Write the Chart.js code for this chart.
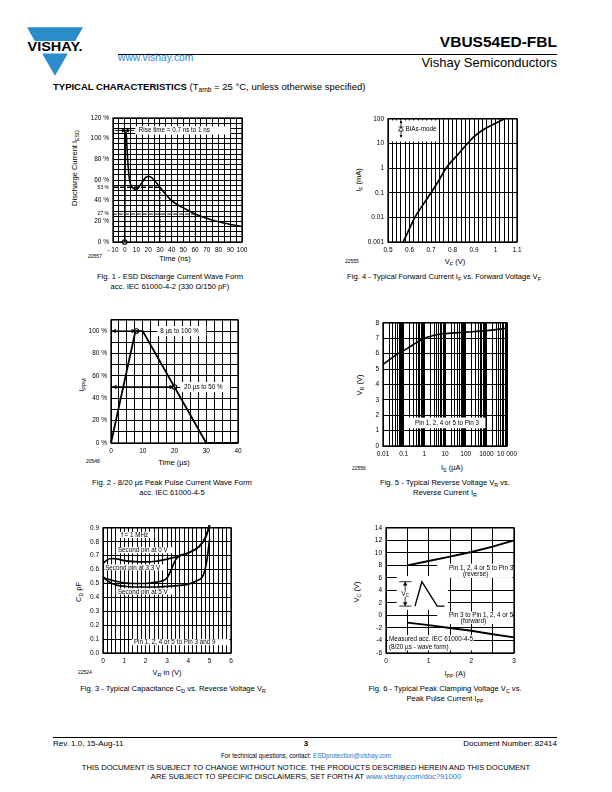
<!DOCTYPE html>
<html>
<head>
<meta charset="utf-8">
<title>VBUS54ED-FBL typical characteristics</title>
<script src="https://cdn.jsdelivr.net/npm/chart.js@4.4.1/dist/chart.umd.min.js"></script>
<style>
  body { margin:0; width:612px; height:792px; position:relative; overflow:hidden; background:#fff;
         font-family:"Liberation Sans", Arial, sans-serif; color:#000; }
  .t { position:absolute; white-space:nowrap; line-height:1; transform:translateY(-50%); }
  .c { transform:translate(-50%,-50%); text-align:center; }
  .r { transform:translate(-100%,-50%); }
  .yt { position:absolute; white-space:nowrap; line-height:1; font-size:7.5px; transform:translate(-50%,-50%) rotate(-90deg); }
  .holder { position:absolute; }
  .holder canvas { display:block; }
  .note { position:absolute; white-space:nowrap; line-height:1; font-size:6.3px; }
  sub { font-size:70%; vertical-align:-0.3em; line-height:0; }
  .cap { font-size:7.6px; }
  .code { font-size:5px; }
  a { color:#1a7ac6; }
</style>
</head>
<body>

<!-- header -->
<svg style="position:absolute;left:27px;top:27px" width="56" height="49" viewBox="0 0 58 50">
  <polygon points="0,0 58,0 49.9,14 8.1,14" fill="#2b8ccc"/>
  <polygon points="15.7,27 42.3,27 29,50" fill="#2b8ccc"/>
  <text x="0.5" y="25" font-family="Liberation Sans" font-weight="bold" font-size="12.5" textLength="57" lengthAdjust="spacingAndGlyphs">VISHAY.</text>
</svg>
<div class="t r" style="left:557px;top:42px;font-size:15.5px;font-weight:bold">VBUS54ED-FBL</div>
<div style="position:absolute;left:118px;top:54px;width:439px;border-top:1px solid #000"></div>
<div class="t" style="left:118px;top:58px;font-size:10.3px;color:#2b8ccc">www.vishay.com</div>
<div class="t r" style="left:557px;top:62px;font-size:13px">Vishay Semiconductors</div>
<div class="t" style="left:53px;top:87px;font-size:9.5px"><b>TYPICAL CHARACTERISTICS</b> (T<sub>amb</sub> = 25 °C, unless otherwise specified)</div>

<!-- axis titles and captions -->
<div class="yt" style="left:75px;top:168px">Discharge Current I<sub>ESD</sub></div>
<div class="t c" style="left:175px;top:259px;font-size:7.5px">Time (ns)</div>
<div class="t code" style="left:88px;top:256px">20557</div>
<div class="t c cap" style="left:170px;top:277px">Fig. 1 - ESD Discharge Current Wave Form</div>
<div class="t c cap" style="left:170px;top:287px">acc. IEC 61000-4-2 (330 Ω/150 pF)</div>

<div class="yt" style="left:359px;top:180px">I<sub>F</sub> (mA)</div>
<div class="t c" style="left:455px;top:262px;font-size:7.5px">V<sub>F</sub> (V)</div>
<div class="t code" style="left:345px;top:261px">22555</div>
<div class="t c cap" style="left:444px;top:277px">Fig. 4 - Typical Forward Current I<sub>F</sub> vs. Forward Voltage V<sub>F</sub></div>

<div class="yt" style="left:82px;top:385px">I<sub>PPM</sub></div>
<div class="t c" style="left:174px;top:463px;font-size:7.5px">Time (µs)</div>
<div class="t code" style="left:86px;top:461px">20548</div>
<div class="t c cap" style="left:172px;top:483px">Fig. 2 - 8/20 µs Peak Pulse Current Wave Form</div>
<div class="t c cap" style="left:172px;top:493px">acc. IEC 61000-4-5</div>

<div class="yt" style="left:360px;top:385px">V<sub>R</sub> (V)</div>
<div class="t c" style="left:452px;top:468px;font-size:7.5px">I<sub>S</sub> (µA)</div>
<div class="t code" style="left:352px;top:468px">22556</div>
<div class="t c cap" style="left:445px;top:483px">Fig. 5 - Typical Reverse Voltage V<sub>R</sub> vs.</div>
<div class="t c cap" style="left:445px;top:493px">Reverse Current I<sub>R</sub></div>

<div class="yt" style="left:79px;top:592px">C<sub>D</sub> pF</div>
<div class="t c" style="left:167px;top:673px;font-size:7.5px">V<sub>R</sub> in (V)</div>
<div class="t code" style="left:78px;top:672px">22524</div>
<div class="t c cap" style="left:173px;top:689px">Fig. 3 - Typical Capacitance C<sub>D</sub> vs. Reverse Voltage V<sub>R</sub></div>

<div class="yt" style="left:357px;top:592px">V<sub>C</sub> (V)</div>
<div class="t c" style="left:455px;top:674px;font-size:7.5px">I<sub>PP</sub> (A)</div>
<div class="t c cap" style="left:445px;top:689px">Fig. 6 - Typical Peak Clamping Voltage V<sub>C</sub> vs.</div>
<div class="t c cap" style="left:445px;top:699px">Peak Pulse Current I<sub>PP</sub></div>

<!-- footer -->
<div style="position:absolute;left:53px;top:737px;width:504px;border-top:1px solid #000"></div>
<div class="t" style="left:53px;top:744px;font-size:8px">Rev. 1.0, 15-Aug-11</div>
<div class="t c" style="left:306px;top:744px;font-size:8px;font-weight:bold">3</div>
<div class="t r" style="left:557px;top:744px;font-size:8px">Document Number: 82414</div>
<div class="t c" style="left:306px;top:756px;font-size:6.3px">For technical questions, contact: <a>ESDprotection@vishay.com</a></div>
<div class="t c" style="left:306px;top:768px;font-size:7.6px">THIS DOCUMENT IS SUBJECT TO CHANGE WITHOUT NOTICE. THE PRODUCTS DESCRIBED HEREIN AND THIS DOCUMENT</div>
<div class="t c" style="left:306px;top:777px;font-size:7.6px">ARE SUBJECT TO SPECIFIC DISCLAIMERS, SET FORTH AT <a>www.vishay.com/doc?91000</a></div>

<script>
// ---- data ----

// Fig. 1 - ESD discharge current, % of peak vs ns
const esdTime    = [0, 0.2, 0.5, 1, 1.5, 2, 3, 4, 5, 6, 8, 10, 12, 15, 18, 20, 22, 25, 28, 30, 35, 40, 45, 50, 55, 60, 70, 80, 90, 100];
const esdCurrent = [0, 60, 100, 107, 101, 90, 72, 61, 56, 53.5, 51.5, 51, 53, 58, 62.5, 63.5, 63, 60, 56, 53, 46, 40, 36, 33, 30, 27, 23, 19.5, 17, 15];

// Fig. 4 - forward current (mA) vs forward voltage (V)
const vfVolt    = [0.57, 0.6, 0.625, 0.66, 0.7, 0.735, 0.77, 0.82, 0.87, 0.9, 0.95, 1.0, 1.04];
const ifCurrent = [0.001, 0.0035, 0.01, 0.03, 0.1, 0.3, 1, 3.2, 10, 19, 40, 66, 100];

// Fig. 2 - 8/20 us pulse, % of peak vs us
const pulseTime  = [0, 7.7, 10, 30, 40];
const pulseLevel = [0, 100, 100, 0, 0];

// Fig. 5 - reverse voltage (V) vs reverse current (uA)
const irCurrent = [0.01, 0.02, 0.04, 0.07, 0.1, 0.2, 0.4, 1, 3, 10, 30, 100, 1000, 10000];
const vrVolt    = [5.3, 5.6, 5.9, 6.1, 6.2, 6.45, 6.7, 7.0, 7.2, 7.3, 7.35, 7.4, 7.5, 7.65];

// Fig. 3 - capacitance (pF) vs reverse voltage (V), three bias cases
const cd0Bias  = [0, 0.2, 0.4, 0.7, 1, 1.5, 2, 2.5, 3, 3.5, 4, 4.5, 4.8, 5];
const cd0V     = [0.645, 0.67, 0.68, 0.675, 0.665, 0.657, 0.655, 0.66, 0.675, 0.695, 0.72, 0.765, 0.83, 0.92];
const cd33Bias = [0, 0.5, 1, 1.5, 2, 2.5, 2.8, 3.0, 3.2, 3.4, 3.6, 4, 4.5, 4.8, 5];
const cd33V    = [0.54, 0.52, 0.505, 0.50, 0.50, 0.51, 0.52, 0.54, 0.6, 0.67, 0.70, 0.72, 0.765, 0.83, 0.92];
const cd5Bias  = [0, 0.3, 0.6, 1, 1.5, 2, 2.5, 3, 3.5, 4, 4.4, 4.7, 4.85, 5];
const cd5V     = [0.55, 0.51, 0.49, 0.48, 0.475, 0.475, 0.475, 0.48, 0.485, 0.495, 0.52, 0.56, 0.65, 0.82];

// Fig. 6 - clamping voltage (V) vs peak pulse current (A)
const ippCurrent = [0.5, 1, 1.5, 2, 2.5, 3];
const vcReverse  = [8.0, 8.7, 9.4, 10.15, 11.0, 12.0];
const vcForward  = [-1.15, -1.55, -2.0, -2.45, -3.0, -3.5];

// ---- helpers ----
const FONT = 'Liberation Sans';
Chart.defaults.font.family = FONT;
Chart.defaults.color = '#000';

function pts(xs, ys) { return xs.map((x, i) => ({ x: x, y: ys[i] })); }

function line(data, extra) {
  return Object.assign({ data: data, borderColor: '#000', backgroundColor: '#000', borderWidth: 1.6,
    pointRadius: 0, fill: false, tension: 0, clip: false }, extra);
}

// arrow heads drawn as rotated triangle points
function heads(data, rot) {
  return { data: data, showLine: false, pointStyle: 'triangle', pointRadius: 2.6, pointRotation: rot,
    backgroundColor: '#000', borderColor: '#000', borderWidth: 0, clip: false };
}

function rings(data) {
  return { data: data, showLine: false, pointStyle: 'circle', pointRadius: 2.3,
    backgroundColor: '#fff', borderColor: '#000', borderWidth: 1.1, clip: false };
}

function tickFont(size) { return { family: FONT, size: size || 6.5 }; }

function axis(o) {
  return {
    type: o.type || 'linear', min: o.min, max: o.max,
    grid: { color: o.gridColor || '#000', lineWidth: 1, drawTicks: false },
    border: { display: false },
    afterBuildTicks: o.ticksAt,
    ticks: { stepSize: o.step, color: '#000', font: o.font || tickFont(), padding: o.pad || 4,
      autoSkip: false, maxRotation: 0, minRotation: 0, callback: o.label }
  };
}

// white patches behind the annotation texts (grid shows through everywhere else)
function blankPlugin(rects) {
  return {
    id: 'blanks',
    beforeDatasetsDraw(chart) {
      const { ctx, chartArea: a, scales: { x, y } } = chart;
      ctx.save();
      ctx.fillStyle = '#fff';
      rects.forEach(r => {
        const x1 = Math.max(x.getPixelForValue(r[0]), a.left + 1.5);
        const x2 = Math.min(x.getPixelForValue(r[1]), a.right - 1.5);
        const y1 = Math.max(y.getPixelForValue(r[3]), a.top + 1.5);
        const y2 = Math.min(y.getPixelForValue(r[2]), a.bottom - 1.5);
        ctx.fillRect(x1, y1, x2 - x1, y2 - y1);
      });
      ctx.restore();
    }
  };
}

const framePlugin = {
  id: 'frame',
  afterDatasetsDraw(chart) {
    const { ctx, chartArea: a } = chart;
    ctx.save();
    ctx.strokeStyle = '#000';
    ctx.lineWidth = 1.3;
    ctx.strokeRect(a.left, a.top, a.right - a.left, a.bottom - a.top);
    ctx.restore();
  }
};

// pad = [left, top, right, bottom] around the plot area
function build(plot, pad, datasets, scales, blanks) {
  const w = pad[0] + plot.w + pad[2], h = pad[1] + plot.h + pad[3];
  const holder = document.createElement('div');
  holder.className = 'holder';
  holder.style.left = (plot.x - pad[0]) + 'px';
  holder.style.top = (plot.y - pad[1]) + 'px';
  holder.style.width = w + 'px';
  holder.style.height = h + 'px';
  const canvas = document.createElement('canvas');
  canvas.width = w; canvas.height = h;
  canvas.style.width = w + 'px'; canvas.style.height = h + 'px';
  holder.appendChild(canvas);
  document.body.appendChild(holder);
  scales.x.afterFit = s => { s.height = pad[3]; };
  scales.y.afterFit = s => { s.width = pad[0]; };
  const chart = new Chart(canvas, {
    type: 'line',
    data: { datasets: datasets },
    options: {
      responsive: false, animation: false, devicePixelRatio: 1,
      layout: { padding: { left: 0, top: pad[1], right: pad[2], bottom: 0 } },
      plugins: { legend: { display: false }, tooltip: { enabled: false } },
      scales: scales
    },
    plugins: [blankPlugin(blanks || []), framePlugin]
  });
  return { chart: chart, holder: holder };
}

// text placed in data coordinates; align: 'l' (left edge at x), 'c', 'r'
function note(c, x, y, html, align, size) {
  const el = document.createElement('div');
  el.className = 'note';
  el.innerHTML = html;
  const tx = align === 'c' ? '-50%' : align === 'r' ? '-100%' : '0';
  el.style.transform = 'translate(' + tx + ',-50%)';
  el.style.left = c.chart.scales.x.getPixelForValue(x) + 'px';
  el.style.top = c.chart.scales.y.getPixelForValue(y) + 'px';
  if (size) el.style.fontSize = size + 'px';
  c.holder.appendChild(el);
  return el;
}

const PAD = [40, 6, 12, 14];
const isMult = (v, m) => Math.abs(v / m - Math.round(v / m)) < 1e-6;

// ---- Fig. 1 ----
const fig1 = build({ x: 113, y: 117, w: 129, h: 125 }, PAD, [
  line(pts(esdTime, esdCurrent), { cubicInterpolationMode: 'monotone' }),
  rings([{ x: 0, y: 0 }]),
  line([{ x: -10, y: 53 }, { x: 30, y: 53 }], { borderDash: [5, 2], borderWidth: 1.4 }),
  line([{ x: 30, y: 0 }, { x: 30, y: 53 }], { borderDash: [1.5, 1.2], borderWidth: 1.4 }),
  line([{ x: -10, y: 27 }, { x: 60, y: 27 }], { borderDash: [4, 2], borderWidth: 0.9 }),
  line([{ x: 60, y: 0 }, { x: 60, y: 27 }], { borderDash: [1.2, 1.2], borderWidth: 0.9 }),
  line([{ x: -8.5, y: 108 }, { x: 8, y: 108 }], { borderWidth: 0.9 }),
  heads([{ x: -1.3, y: 108 }], 90),
  heads([{ x: 2.3, y: 108 }], -90)
], {
  x: axis({ min: -10, max: 100, step: 5, label: v => isMult(v, 10) ? (v < 0 ? '- ' + Math.abs(v) : String(v)) : '' }),
  y: axis({ min: 0, max: 120, step: 5,
    ticksAt: s => { s.ticks.push({ value: 53 }, { value: 27 }); },
    label: v => (v === 53 || v === 27 || isMult(v, 20)) ? v + ' %' : '' })
}, [[9, 90, 104, 112]]);
// the 53 % / 27 % marks only carry a label, no grid line
(function () {
  const y = fig1.chart.options.scales.y;
  y.grid.color = ctx => (ctx.tick && (ctx.tick.value === 53 || ctx.tick.value === 27)) ? 'rgba(0,0,0,0)' : '#000';
  y.ticks.font = ctx => tickFont(ctx.tick && (ctx.tick.value === 53 || ctx.tick.value === 27) ? 5 : 6.5);
  fig1.chart.update();
})();
note(fig1, 12, 108, 'Rise time = 0.7 ns to 1 ns', 'l');

// ---- Fig. 4 ----
const fig4 = build({ x: 388, y: 117, w: 129, h: 125 }, PAD, [
  line(pts(vfVolt, ifCurrent), { cubicInterpolationMode: 'monotone', borderWidth: 1.7 })
], {
  x: axis({ min: 0.5, max: 1.1, step: 0.02, label: v => isMult(v, 0.1) ? String(Number(v.toFixed(1))) : '' }),
  y: axis({ type: 'logarithmic', min: 0.001, max: 100,
    ticksAt: s => { s.ticks = [0.001, 0.01, 0.1, 1, 10, 100].map(v => ({ value: v })); },
    label: v => String(v) })
}, [[0.5, 0.727, 12, 100]]);
note(fig4, 0.545, 38, '<svg width="6" height="18" viewBox="0 0 6 18" style="vertical-align:middle"><line x1="3" y1="1" x2="3" y2="17" stroke="#000" stroke-width="0.8"/><polygon points="3,0 1.6,3 4.4,3" fill="#000"/><polygon points="3,18 1.6,15 4.4,15" fill="#000"/><polygon points="0.5,11 5.5,11 3,7" fill="#fff" stroke="#000" stroke-width="0.7"/><line x1="0.5" y1="7" x2="5.5" y2="7" stroke="#000" stroke-width="0.7"/></svg> BIAs-mode', 'l');

// ---- Fig. 2 ----
const fig2 = build({ x: 111, y: 318, w: 127, h: 125 }, PAD, [
  line(pts(pulseTime, pulseLevel), { borderWidth: 1.8 }),
  line([{ x: 0.4, y: 100 }, { x: 7.5, y: 100 }], { borderWidth: 1.3 }),
  line([{ x: 0.4, y: 50 }, { x: 19.5, y: 50 }], { borderWidth: 1.8 }),
  heads([{ x: 1.1, y: 100 }, { x: 1.3, y: 50 }], -90),
  heads([{ x: 6.9, y: 100 }, { x: 18.9, y: 50 }], 90),
  rings([{ x: 8, y: 100 }, { x: 20, y: 50 }])
], {
  x: axis({ min: 0, max: 40, step: 2.5, label: v => isMult(v, 10) ? String(v) : '' }),
  y: axis({ min: 0, max: 110, step: 10, label: v => (isMult(v, 20) && v <= 100) ? v + ' %' : '' })
}, [[14.5, 30, 95.5, 104.5], [21.8, 37.5, 45.5, 54.5]]);
note(fig2, 15.5, 100, '8 µs to 100 %', 'l');
note(fig2, 23, 50, '20 µs to 50 %', 'l');

// ---- Fig. 5 ----
const logGrid = [];
[0.01, 0.1, 1, 10, 100, 1000].forEach(d => {
  [1, 2, 3, 4, 5, 6, 7, 8, 8.5, 9, 9.5].forEach(m => logGrid.push({ value: m * d }));
});
logGrid.push({ value: 10000 });
const fig5 = build({ x: 383, y: 321, w: 126, h: 125 }, PAD, [
  line(pts(irCurrent, vrVolt), { cubicInterpolationMode: 'monotone', borderWidth: 1.6 })
], {
  x: axis({ type: 'logarithmic', min: 0.01, max: 10000,
    ticksAt: s => { s.ticks = logGrid.map(t => ({ value: t.value })); },
    label: v => {
      const l = Math.log10(v);
      if (Math.abs(l - Math.round(l)) > 1e-6) return '';
      return v >= 10000 ? '10 000' : String(v);
    } }),
  y: axis({ min: 0, max: 8, step: 1, label: v => String(v) })
}, [[0.17, 900, 1.15, 1.85]]);
note(fig5, 12.5, 1.5, 'Pin 1, 2, 4 or 5 to Pin 3', 'c');

// ---- Fig. 3 ----
const fig3 = build({ x: 103, y: 526, w: 128, h: 127 }, PAD, [
  line(pts(cd0Bias, cd0V), { cubicInterpolationMode: 'monotone', borderWidth: 1.7 }),
  line(pts(cd33Bias, cd33V), { cubicInterpolationMode: 'monotone', borderWidth: 1.7 }),
  line(pts(cd5Bias, cd5V), { cubicInterpolationMode: 'monotone', borderWidth: 1.7 })
], {
  x: axis({ min: 0, max: 6, step: 0.2, label: v => isMult(v, 1) ? String(Math.round(v)) : '' }),
  y: axis({ min: 0, max: 0.9, step: 0.1, label: v => v.toFixed(1) })
}, [[0.72, 2.4, 0.826, 0.872], [0.6, 3.35, 0.717, 0.762], [0.05, 3.0, 0.594, 0.638], [0.6, 3.35, 0.42, 0.465], [1.35, 5.95, 0.056, 0.1]]);
note(fig3, 0.85, 0.848, 'f = 1 MHz', 'l');
note(fig3, 0.7, 0.739, 'Second pin at 0 V', 'l');
note(fig3, 0.1, 0.615, 'Second pin at 3.3 V', 'l');
note(fig3, 0.7, 0.442, 'Second pin at 5 V', 'l');
note(fig3, 1.45, 0.078, 'Pin 1, 2, 4 or 5 to Pin 3 and 9', 'l');

// ---- Fig. 6 ----
const fig6 = build({ x: 386, y: 526, w: 128, h: 127 }, PAD, [
  line(pts(ippCurrent, vcReverse), { borderWidth: 1.9 }),
  line(pts(ippCurrent, vcForward), { borderWidth: 1.9 }),
  // inset: V_C definition sketch
  line([{ x: 0.31, y: 5.4 }, { x: 0.6, y: 5.4 }], { borderWidth: 0.8 }),
  line([{ x: 0.31, y: 1.5 }, { x: 0.6, y: 1.5 }], { borderWidth: 0.8 }),
  line([{ x: 0.45, y: 1.6 }, { x: 0.45, y: 5.3 }], { borderWidth: 0.8 }),
  heads([{ x: 0.45, y: 5.0 }], 0),
  heads([{ x: 0.45, y: 1.9 }], 180),
  line([{ x: 0.68, y: 1.5 }, { x: 0.84, y: 5.4 }, { x: 1.2, y: 1.5 }, { x: 1.37, y: 1.5 }], { borderWidth: 1.4 })
], {
  x: axis({ min: 0, max: 3, step: 0.5, label: v => isMult(v, 1) ? String(Math.round(v)) : '' }),
  y: axis({ min: -6, max: 14, step: 2, label: v => String(v) })
}, [[1.2, 3, 6.0, 8.3], [1.2, 3, -1.35, 0.65], [0.05, 2.05, -5.6, -3.15], [0.25, 1.45, 0.9, 6.3]]);
note(fig6, 2.98, 7.65, 'Pin 1, 2, 4 or 5 to Pin 3', 'r');
note(fig6, 2.1, 6.65, '(reverse)', 'c');
note(fig6, 2.98, 0.05, 'Pin 3 to Pin 1, 2, 4 or 5', 'r');
note(fig6, 2.05, -0.85, '(forward)', 'c');
note(fig6, 0.07, -3.75, 'Measured acc. IEC 61000-4-5', 'l');
note(fig6, 0.07, -5.0, '(8/20 µs - wave form)', 'l');
const vcTag = note(fig6, 0.45, 3.5, 'V<sub>C</sub>', 'c');
vcTag.style.background = '#fff';
</script>
</body>
</html>
